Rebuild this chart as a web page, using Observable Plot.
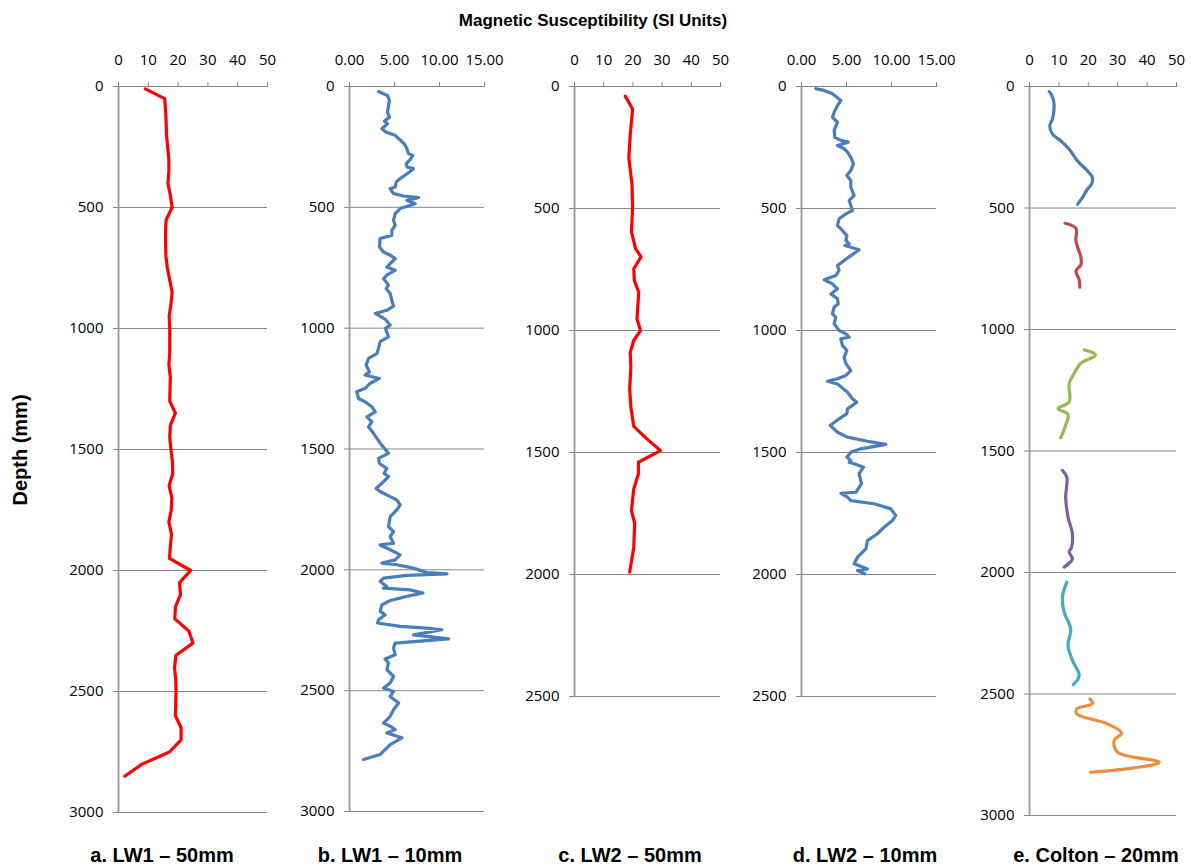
<!DOCTYPE html>
<html><head><meta charset="utf-8">
<script src="https://cdn.jsdelivr.net/npm/d3@7"></script>
<script src="https://cdn.jsdelivr.net/npm/@observablehq/plot@0.6"></script>
<style>
body{margin:0;background:#fff;}
#wrap{position:relative;width:1192px;height:866px;overflow:hidden;background:#fff;font-family:"Liberation Sans",Arial,sans-serif;}
.t{position:absolute;font-weight:bold;color:#000;white-space:nowrap;line-height:1;}
</style></head><body><div id="wrap"></div>
<script>
// ---------- data ----------
const titleText = "Magnetic Susceptibility (SI Units)";
const yLabelText = "Depth (mm)";
const panelLabels = ["a. LW1 \u2013 50mm", "b. LW1 \u2013 10mm", "c. LW2 \u2013 50mm", "d. LW2 \u2013 10mm", "e. Colton \u2013 20mm"];
const ticks50 = [0, 10, 20, 30, 40, 50];
const ticks15 = [0, 5, 10, 15];

// a. LW1 – 50mm
const lw1_50_depth = [10,50,100,150,200,250,300,350,400,450,500,550,600,650,700,750,800,850,900,950,1000,1050,1100,1150,1200,1250,1300,1350,1400,1450,1500,1550,1600,1650,1700,1750,1800,1850,1900,1950,2000,2050,2100,2150,2200,2250,2300,2350,2400,2450,2500,2550,2600,2650,2700,2750,2800,2850];
const lw1_50_value = [9,15.5,15.8,16.0,16.1,16.5,16.9,16.9,16.6,17.4,18.0,16.0,15.8,15.8,15.9,16.4,17.2,18.0,17.6,17.0,17.2,17.2,17.2,16.9,17.4,17.3,17.2,19.1,17.4,17.2,17.6,18.1,18.2,17.0,17.9,17.7,16.9,17.8,17.4,17.1,24.2,20.5,20.8,19.1,18.9,23.6,25.0,19.3,18.8,19.2,19.3,19.2,19.1,21.0,21.0,17.1,7.9,2.1];

// b. LW1 – 10mm
const lw1_10_depth = [21,37,58,106,127,143,154,175,189,202,237,258,278,285,303,319,333,340,354,381,395,416,423,443,453,460,471,485,505,526,554,574,595,616,629,664,685,698,712,733,747,760,781,795,822,836,857,884,909,926,939,964,988,1001,1036,1056,1084,1105,1125,1153,1181,1194,1208,1229,1249,1263,1291,1305,1325,1346,1367,1387,1408,1435,1476,1518,1539,1560,1580,1601,1614,1642,1663,1676,1697,1711,1731,1752,1780,1821,1842,1862,1890,1897,1917,1938,1959,1972,1979,1993,2011,2017,2023,2034,2048,2069,2076,2083,2096,2110,2127,2145,2172,2186,2207,2220,2234,2241,2248,2269,2286,2303,2324,2351,2369,2386,2413,2441,2468,2489,2503,2524,2551,2579,2606,2634,2647,2661,2675,2695,2723,2744,2764,2785];
const lw1_10_value = [3.22,4.22,4.44,4.22,4.44,3.89,4.22,3.6,4.07,5.08,6.08,6.38,6.56,7.04,6.74,6.3,6.38,7.11,6.67,5.63,5.19,5.08,4.52,4.89,6.0,7.67,6.38,7.3,5.63,5.08,4.89,5.08,4.7,4.7,3.41,3.33,3.78,4.52,5.08,4.52,4.15,5.08,4.15,3.78,4.33,4.07,4.52,4.7,4.89,4.15,2.86,4.0,4.52,4.0,4.33,3.41,3.22,3.04,2.11,1.85,2.22,1.74,3.33,2.26,1.74,0.81,1.0,1.74,2.48,2.86,1.93,2.48,2.11,2.67,3.41,4.33,3.22,3.33,4.15,3.85,4.33,3.6,2.96,3.41,4.52,5.26,5.63,5.26,4.52,4.33,4.89,4.52,4.89,3.41,4.52,5.63,5.08,3.6,5.26,7.11,8.6,10.82,6.37,3.78,3.41,4.15,3.78,6.74,8.15,6.37,4.52,3.6,3.41,3.96,3.22,3.11,5.63,8.6,10.26,7.11,11.0,5.08,4.89,5.08,3.96,4.33,4.15,4.89,4.52,3.78,4.89,4.52,5.45,4.89,4.52,3.78,4.52,5.08,4.15,5.82,4.52,3.96,3.41,1.56];

// c. LW2 – 50mm
const lw2_50_depth = [40,92,196,292,402,499,595,664,698,747,795,843,953,1000,1041,1089,1150,1239,1314,1393,1444,1492,1540,1587,1649,1738,1790,1888,1990];
const lw2_50_value = [17.4,19.9,19.1,18.6,19.7,19.9,19.5,20.9,22.8,20.3,20.5,22.0,21.4,22.6,20.3,19.1,19.3,18.9,19.3,20.3,24.8,29.4,21.9,21.9,20.3,19.5,20.6,20.3,18.9];

// d. LW2 – 10mm
const lw2_10_depth = [9,16,30,57,78,105,126,146,180,208,221,228,242,255,269,290,317,344,365,385,413,447,467,508,522,542,570,590,611,631,645,652,669,693,713,734,754,775,792,809,829,850,870,891,904,932,945,973,1000,1014,1027,1034,1061,1082,1109,1136,1164,1184,1198,1208,1219,1253,1280,1294,1321,1341,1362,1389,1417,1437,1454,1467,1485,1499,1519,1533,1540,1546,1560,1587,1628,1663,1667,1683,1697,1710,1731,1758,1779,1806,1833,1861,1895,1929,1956,1977,1984,1997];
const lw2_10_value = [1.59,2.52,3.44,4.37,4.0,3.63,3.44,4.0,3.63,3.7,4.37,5.19,4.0,4.74,5.11,5.48,5.78,5.48,5.04,5.48,5.48,5.85,5.3,5.67,4.93,4.18,4.0,4.55,5.04,4.93,5.3,4.81,6.4,5.48,4.74,4.0,4.18,3.81,2.52,3.44,4.0,3.26,4.0,4.07,3.63,3.44,3.81,3.63,4.18,4.93,5.3,4.37,4.55,5.04,4.74,4.93,5.48,4.93,4.0,2.89,4.0,5.11,5.67,6.15,5.11,5.04,4.18,3.19,4.0,5.11,7.33,9.37,6.59,5.48,5.04,5.48,5.3,5.85,6.89,6.4,6.66,6.04,4.37,5.11,5.48,8.07,9.92,10.48,10.1,9.18,8.44,7.33,7.15,6.22,5.85,7.33,6.22,7.04];

// e. Colton – 20mm (six core sections)
const colton1_depth = [21,37,65,99,134,161,196,223,258,306,347,375,402,423,457,485];
const colton1_value = [6.7,7.6,8.3,8.3,7.8,6.9,7.8,10.6,13.5,16.3,19.7,21.4,21.1,19.7,18.0,16.3];
const colton2_depth = [563,584,636,705,733,760,795,826];
const colton2_value = [12.1,15.8,15.8,17.5,17.5,15.8,16.9,17.1];
const colton3_depth = [1084,1105,1139,1181,1222,1298,1325,1350,1394,1446];
const colton3_value = [18.6,22.5,17.4,15.2,13.5,13.5,9.7,13.1,12.3,10.6];
const colton4_depth = [1580,1608,1690,1772,1841,1896,1916,1944,1978];
const colton4_value = [11.2,12.7,12.3,13.1,14.6,14.3,13.5,14.6,11.8];
const colton5_depth = [2040,2101,2163,2232,2300,2362,2424,2461];
const colton5_value = [12.7,11.2,11.8,14.0,13.1,14.6,16.9,14.9];
const colton6_depth = [2520,2540,2561,2582,2623,2661,2691,2739,2781,2804,2822];
const colton6_value = [20.6,21.4,16.1,16.1,26.5,31.3,28.8,29.9,44.1,35.6,20.8];

// ---------- build ----------
const zip = (d, v) => d.map((dd, i) => ({d: dd, v: v[i]}));
const wrap = document.getElementById("wrap");
const ML = 60, MT = 50, MR = 25, MB = 10, TOP = 86;
const GRID = "#868686";

function makePanel(cfg) {
  const yticks = d3.range(0, cfg.ymax + 1, 500);
  const marks = [
    Plot.ruleY(yticks, {x1: 0, x2: cfg.xmax, stroke: GRID, strokeWidth: 1}),
    Plot.ruleX([0], {y1: 0, y2: cfg.ymax, stroke: "#999", strokeWidth: 1.8}),
    Plot.axisX(cfg.xticks, {anchor: "top", tickSize: 5, tickPadding: 17, stroke: GRID, fill: "#000", tickFormat: cfg.xfmt, label: null}),
    Plot.axisY(yticks, {anchor: "left", tickSize: 5, tickPadding: 10, stroke: GRID, fill: "#000", tickFormat: d => String(d), label: null}),
    ...cfg.lines.map(s => Plot.line(s.data, {x: "v", y: "d", stroke: s.color, strokeWidth: 3.2, curve: s.curve || "linear", strokeLinejoin: "round", strokeLinecap: "round"}))
  ];
  const svg = Plot.plot({
    width: ML + cfg.plotW + MR, height: MT + cfg.plotH + MB,
    marginLeft: ML, marginTop: MT, marginRight: MR, marginBottom: MB,
    x: {domain: [0, cfg.xmax]},
    y: {domain: [0, cfg.ymax], reverse: true},
    style: {fontFamily: "'Open Sans', sans-serif", fontSize: "15px", background: "transparent", overflow: "visible", color: "#000"},
    marks
  });
  svg.style.position = "absolute";
  svg.style.left = (cfg.axisX - ML) + "px";
  svg.style.top = (TOP - MT) + "px";
  svg.style.maxWidth = "none";
  wrap.appendChild(svg);
}

const fmtInt = d => String(d);
const fmt2 = d => d.toFixed(2);
const RED = "#ff0000", BLUE = "#4a7ebb";

makePanel({axisX: 118, plotW: 149, plotH: 726, xmax: 50, xticks: ticks50, xfmt: fmtInt, ymax: 3000,
  lines: [{data: zip(lw1_50_depth, lw1_50_value), color: RED}]});
makePanel({axisX: 349, plotW: 135, plotH: 725, xmax: 15, xticks: ticks15, xfmt: fmt2, ymax: 3000,
  lines: [{data: zip(lw1_10_depth, lw1_10_value), color: BLUE}]});
makePanel({axisX: 574, plotW: 146, plotH: 610, xmax: 50, xticks: ticks50, xfmt: fmtInt, ymax: 2500,
  lines: [{data: zip(lw2_50_depth, lw2_50_value), color: RED}]});
makePanel({axisX: 801, plotW: 135, plotH: 610, xmax: 15, xticks: ticks15, xfmt: fmt2, ymax: 2500,
  lines: [{data: zip(lw2_10_depth, lw2_10_value), color: BLUE}]});
makePanel({axisX: 1029, plotW: 147, plotH: 729, xmax: 50, xticks: ticks50, xfmt: fmtInt, ymax: 3000,
  lines: [
    {data: zip(colton1_depth, colton1_value), color: "#4a7ebb", curve: "catmull-rom"},
    {data: zip(colton2_depth, colton2_value), color: "#be4b48", curve: "catmull-rom"},
    {data: zip(colton3_depth, colton3_value), color: "#98b954", curve: "catmull-rom"},
    {data: zip(colton4_depth, colton4_value), color: "#7d60a0", curve: "catmull-rom"},
    {data: zip(colton5_depth, colton5_value), color: "#46aac5", curve: "catmull-rom"},
    {data: zip(colton6_depth, colton6_value), color: "#e98d3f", curve: "catmull-rom"}
  ]});

function addText(txt, x, y, size, rotate) {
  const el = document.createElement("div");
  el.className = "t";
  el.textContent = txt;
  el.style.fontSize = size + "px";
  el.style.left = x + "px";
  el.style.top = y + "px";
  el.style.transform = "translate(-50%,-50%)" + (rotate ? " rotate(-90deg)" : "");
  wrap.appendChild(el);
}
addText(titleText, 593, 20, 17);
addText(yLabelText, 20, 450, 20, true);
const labelX = [162, 390, 630, 865, 1096];
panelLabels.forEach((t, i) => addText(t, labelX[i], 855, 20));
</script></body></html>
